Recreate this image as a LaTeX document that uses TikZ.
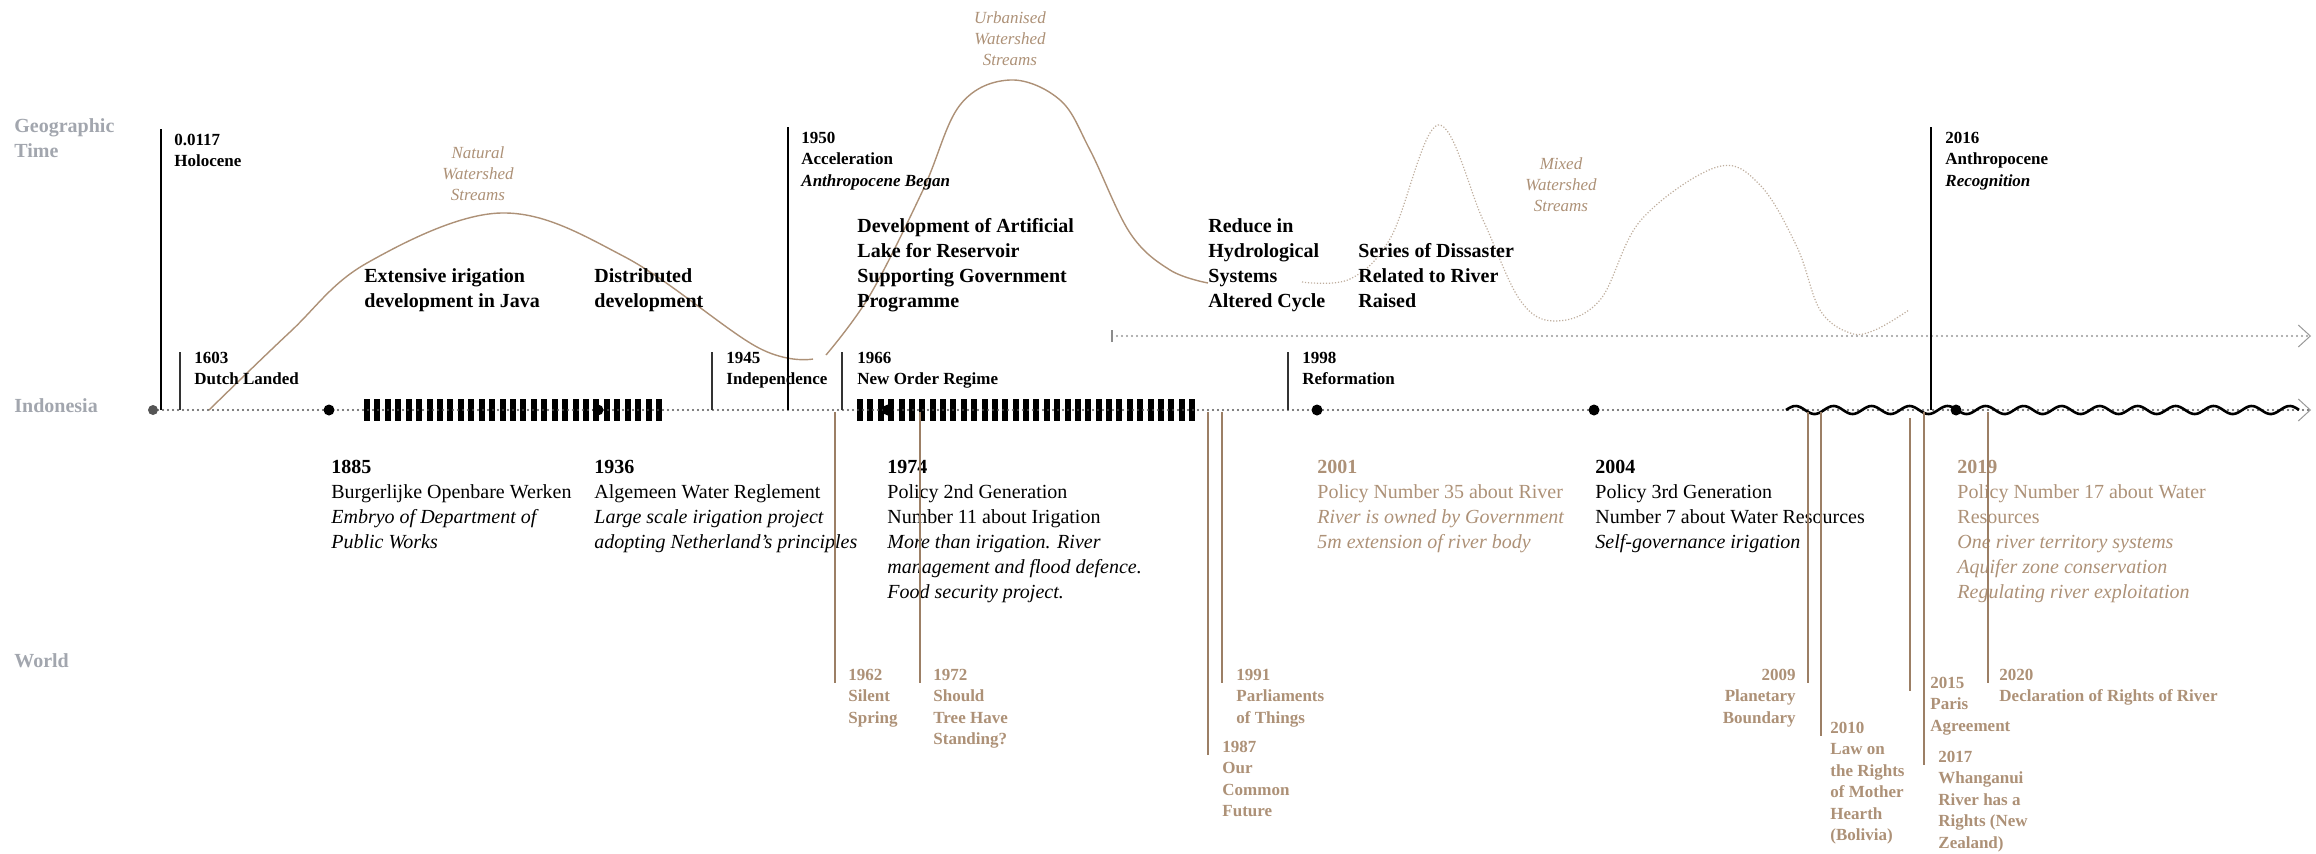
\documentclass[tikz,border=0pt]{standalone}
\usepackage{fontspec}
\setmainfont{Liberation Serif}
\usetikzlibrary{arrows.meta}

\definecolor{streamtan}{HTML}{AD9177}
\definecolor{rowgray}{HTML}{A2A6AE}
\definecolor{worldbrown}{HTML}{9C7F65}
\definecolor{mixtan}{HTML}{BFAE9E}
\definecolor{axisgray}{HTML}{555555}

\tikzset{
  rowlbl/.style={anchor=north west,inner sep=0pt,align=left,text=rowgray,font=\fontsize{10}{12.5}\selectfont\bfseries},
  eralbl/.style={anchor=north west,inner sep=0pt,align=left,font=\fontsize{8.5}{10.75}\selectfont\bfseries},
  biglbl/.style={anchor=north west,inner sep=0pt,align=left,font=\fontsize{10}{12.5}\selectfont\bfseries},
  policylbl/.style={anchor=north west,inner sep=0pt,align=left,font=\fontsize{10}{12.5}\selectfont},
  worldlbl/.style={eralbl,text=streamtan},
  streamlbl/.style={anchor=north,inner sep=0pt,align=center,text=streamtan,font=\fontsize{8.5}{10.5}\selectfont\itshape},
  event/.style={circle,fill=black,inner sep=0pt,minimum size=5.5pt},
  epochline/.style={draw=black,line width=0.7pt},
  tickline/.style={draw=black!80,line width=0.55pt},
  worldline/.style={draw=worldbrown,line width=0.55pt},
  dotline/.style={line width=1.1pt,line cap=round,dash pattern=on 0pt off 2.5pt},
  chevron/.style={-{Straight Barb[length=6pt,width=11pt,line width=0.5pt,color=black!40]}},
}

\begin{document}
\begin{tikzpicture}[x=0.5pt,y=0.5pt,yscale=-1,xscale=1]
\useasboundingbox (0,0) rectangle (2316,853);

% Text Node
\draw (14,118) node (rowGeo) [rowlbl] {Geographic\\Time};
% Text Node
\draw (14,398) node (rowIndo) [rowlbl] {Indonesia};
% Text Node
\draw (14,653) node (rowWorld) [rowlbl] {World};

%Curve Lines: natural watershed streams
\draw [streamtan,line width=0.7pt] plot [smooth,tension=0.6] coordinates {(209,410) (290,332) (367,263) (501,213) (625,257) (757,347) (813,359)};
%Curve Lines: urbanised watershed streams
\draw [streamtan,line width=0.7pt] plot [smooth,tension=0.6] coordinates {(826,355) (870,295) (923,190) (960,105) (1010,80) (1060,100) (1090,150) (1130,233) (1170,270) (1208,283)};
%Curve Lines: mixed watershed streams
\draw [mixtan,line width=0.6pt,dash pattern=on 0.6pt off 0.9pt] plot [smooth,tension=0.6] coordinates {(1302,282) (1350,279) (1391,237) (1438,125) (1483,220) (1520,300) (1555,321) (1600,300) (1641,220) (1717,167) (1760,185) (1797,247) (1820,310) (1850,333) (1875,330) (1909,310)};

% Text Node
\draw (478,146) node (natStream) [streamlbl] {Natural\\Watershed\\Streams};
% Text Node
\draw (1010,11) node (urbStream) [streamlbl] {Urbanised\\Watershed\\Streams};
% Text Node
\draw (1561,157) node (mixStream) [streamlbl] {Mixed\\Watershed\\Streams};

%Shape: Bars (colonial irigation works)
\foreach \i in {0,...,28} \fill ({364+\i*10.43},399) rectangle ++(6,22);
%Shape: Bars (new order programme)
\foreach \i in {0,...,32} \fill ({857+\i*10.375},399) rectangle ++(6,22);

%Straight Lines: Indonesia axis
\draw (153,410) node (axStart) [circle,fill=axisgray,inner sep=0pt,minimum size=5pt] {};
\coordinate (axEnd) at (2311,410);
\draw [dotline,draw=axisgray,chevron] (axStart.center) -- (axEnd);
%Straight Lines: geographic axis
\coordinate (upStart) at (1112,336);
\coordinate (upEnd) at (2311,336);
\draw [dotline,draw=black!40,chevron] (upStart) -- (upEnd);
\draw [black!45,line width=1pt] ([yshift=3pt]upStart) -- ([yshift=-3pt]upStart);
%Curve Lines: reformation wave
\draw [line width=1.3pt] plot [domain=1786:2299,samples=300] (\x,{410-4*sin((\x-1786)*9.47)});

% event dots
\draw (329,410) node (e1885) [event] {};
\draw (598,410) node (e1936) [event] {};
\draw (888,410) node (e1974) [event] {};
\draw (1317,410) node (e2001) [event] {};
\draw (1594,410) node (e2004) [event] {};
\draw (1956,410) node (e2019) [event] {};

% Text Node
\draw (174,133.5) node (l0117) [eralbl] {0.0117\\Holocene};
% Text Node
\draw (194,351.5) node (l1603) [eralbl] {1603\\Dutch Landed};
% Text Node
\draw (726,351.5) node (l1945) [eralbl] {1945\\Independence};
% Text Node
\draw (801,131.5) node (l1950) [eralbl] {1950\\Acceleration\\\textit{Anthropocene Began}};
% Text Node
\draw (857,351.5) node (l1966) [eralbl] {1966\\New Order Regime};
% Text Node
\draw (1302,351.5) node (l1998) [eralbl] {1998\\Reformation};
% Text Node
\draw (1945,131.5) node (l2016) [eralbl] {2016\\Anthropocene\\\textit{Recognition}};

\coordinate (a0117) at (161,410);
\coordinate (a1603) at (180,410);
\coordinate (a1945) at (712,410);
\coordinate (a1950) at (788,410);
\coordinate (a1966) at (842,410);
\coordinate (a1998) at (1288,410);
\coordinate (a2016) at (1931,410);
\draw [epochline] (a0117) -- ([yshift=-2.25pt]a0117 |- l0117.north);
\draw [epochline] (a1950) -- ([yshift=-2.25pt]a1950 |- l1950.north);
\draw [epochline] (a2016) -- ([yshift=-2.25pt]a2016 |- l2016.north);
\draw [tickline] (a1603) -- (a1603 |- l1603.north);
\draw [tickline] (a1945) -- (a1945 |- l1945.north);
\draw [tickline] (a1966) -- (a1966 |- l1966.north);
\draw [tickline] (a1998) -- (a1998 |- l1998.north);

% Text Node
\draw (364,268) node (nExtIrig) [biglbl] {Extensive irigation\\development in Java};
% Text Node
\draw (594,268) node (nDistrib) [biglbl] {Distributed\\development};
% Text Node
\draw (857,218) node (nLake) [biglbl] {Development of Artificial\\Lake for Reservoir\\Supporting Government\\Programme};
% Text Node
\draw (1208,218) node (nReduce) [biglbl] {Reduce in\\Hydrological\\Systems\\Altered Cycle};
% Text Node
\draw (1358,243) node (nDisaster) [biglbl] {Series of Dissaster\\Related to River\\Raised};

% Text Node
\draw (331,459.4) node (p1885) [policylbl] {\textbf{1885}\\Burgerlijke Openbare Werken\\\textit{Embryo of Department of}\\\textit{Public Works}};
% Text Node
\draw (594,459.4) node (p1936) [policylbl] {\textbf{1936}\\Algemeen Water Reglement\\\textit{Large scale irigation project}\\\textit{adopting Netherland's principles}};
% Text Node
\draw (887,459.4) node (p1974) [policylbl] {\textbf{1974}\\Policy 2nd Generation\\Number 11 about Irigation\\\textit{More than irigation. River}\\\textit{management and flood defence.}\\\textit{Food security project.}};
% Text Node
\draw (1317,459.4) node (p2001) [policylbl,text=streamtan] {\textbf{2001}\\Policy Number 35 about River\\\textit{River is owned by Government}\\\textit{5m extension of river body}};
% Text Node
\draw (1595,459.4) node (p2004) [policylbl] {\textbf{2004}\\Policy 3rd Generation\\Number 7 about Water Resources\\\textit{Self-governance irigation}};
% Text Node
\draw (1957,459.4) node (p2019) [policylbl,text=streamtan] {\textbf{2019}\\Policy Number 17 about Water\\Resources\\\textit{One river territory systems}\\\textit{Aquifer zone conservation}\\\textit{Regulating river exploitation}};

% Text Node
\draw (848,668.5) node (l1962) [worldlbl] {1962\\Silent\\Spring};
% Text Node
\draw (933,668.5) node (l1972) [worldlbl] {1972\\Should\\Tree Have\\Standing?};
% Text Node
\draw (1222,740.5) node (l1987) [worldlbl] {1987\\Our\\Common\\Future};
% Text Node
\draw (1236,668.5) node (l1991) [worldlbl] {1991\\Parliaments\\of Things};
% Text Node
\draw (1796,668.5) node (l2009) [worldlbl,anchor=north east,align=right] {2009\\Planetary\\Boundary};
% Text Node
\draw (1830,721.5) node (l2010) [worldlbl] {2010\\Law on\\the Rights\\of Mother\\Hearth\\(Bolivia)};
% Text Node
\draw (1930,676.5) node (l2015) [worldlbl] {2015\\Paris\\Agreement};
% Text Node
\draw (1938,750.5) node (l2017) [worldlbl] {2017\\Whanganui\\River has a\\Rights (New\\Zealand)};
% Text Node
\draw (1999,668.5) node (l2020) [worldlbl] {2020\\Declaration of Rights of River};

\coordinate (w1962) at (835,412);
\coordinate (w1972) at (920,412);
\coordinate (w1987) at (1208,412);
\coordinate (w1991) at (1222,412);
\coordinate (w2009) at (1808,412);
\coordinate (w2010) at (1821,412);
\coordinate (w2015) at (1910,418);
\coordinate (w2017) at (1924,412);
\coordinate (w2020) at (1988,412);
\foreach \w in {1962,1972,1987,1991,2009,2010,2015,2017,2020}
  \draw [worldline] (w\w) -- ([yshift=7pt]w\w |- l\w.north);

\end{tikzpicture}
\end{document}
